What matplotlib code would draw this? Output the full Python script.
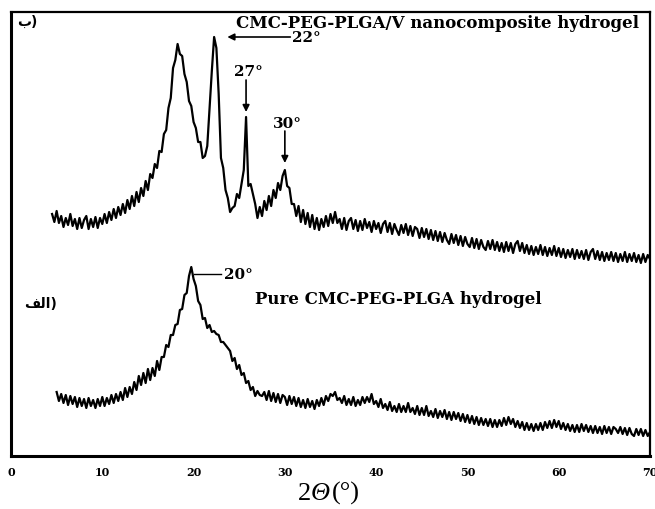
import numpy as np
import matplotlib
matplotlib.use("Agg")
import matplotlib.pyplot as plt

# ---- data (intensity, arbitrary units) ----
top_start, step = 4.5, 0.25
top_intensity = [
    242, 234, 245, 233, 240, 229, 238, 231, 242, 230, 237, 227,
    238, 228, 236, 240, 227, 237, 229, 239, 228, 238, 232, 242,
    233, 244, 236, 247, 238, 249, 241, 252, 243, 256, 247, 260,
    250, 264, 254, 268, 260, 275, 266, 282, 278, 292, 288, 305,
    304, 322, 326, 348, 358, 388, 396, 412, 402, 400, 382, 374,
    355, 350, 334, 328, 314, 314, 298, 300, 310, 348, 385, 419,
    408, 362, 298, 288, 266, 258, 244, 248, 250, 262, 258, 272,
    286, 339, 270, 272, 262, 252, 238, 249, 240, 255, 246, 260,
    250, 266, 258, 273, 266, 280, 286, 270, 268, 252, 252, 240,
    250, 234, 246, 232, 243, 229, 241, 227, 238, 226, 237, 229,
    240, 230, 242, 233, 244, 233, 237, 227, 238, 226, 235, 238,
    227, 236, 225, 235, 226, 237, 228, 234, 224, 235, 227, 233,
    223, 232, 235, 224, 233, 222, 232, 226, 221, 231, 223, 232,
    221, 230, 220, 229, 227, 218, 228, 219, 227, 217, 226, 216,
    225, 215, 224, 214, 223, 216, 212, 222, 213, 221, 211, 220,
    210, 219, 212, 209, 218, 208, 217, 207, 216, 209, 206, 215,
    207, 216, 206, 214, 205, 213, 204, 214, 205, 213, 203, 212,
    215, 205, 213, 203, 211, 202, 210, 201, 209, 202, 211, 201,
    209, 200, 208, 201, 210, 200, 208, 199, 207, 198, 206, 199,
    207, 197, 206, 198, 205, 197, 206, 196, 204, 207, 197, 205,
    196, 204, 195, 203, 196, 204, 195, 203, 194, 202, 195, 204,
    194, 202, 195, 203, 194, 201, 193, 202, 194, 201, 197,
]

bottom_start = 5.0
bottom_intensity = [
    64, 55, 62, 53, 61, 51, 60, 52, 59, 49, 58, 50,
    57, 48, 58, 50, 56, 48, 57, 50, 59, 50, 58, 52,
    61, 53, 62, 55, 64, 56, 68, 59, 69, 62, 74, 66,
    80, 71, 83, 73, 87, 76, 88, 80, 95, 86, 99, 99,
    111, 109, 121, 121, 131, 132, 146, 147, 161, 163, 180, 189,
    177, 170, 155, 151, 137, 138, 128, 131, 124, 125, 122, 121,
    114, 114, 111, 108, 105, 95, 98, 87, 91, 81, 83, 73,
    75, 66, 69, 60, 65, 61, 60, 64, 56, 65, 55, 63,
    54, 62, 53, 61, 59, 51, 60, 52, 59, 50, 58, 49,
    56, 48, 57, 49, 55, 47, 56, 50, 58, 51, 60, 55,
    62, 60, 64, 56, 58, 53, 60, 51, 57, 51, 59, 50,
    56, 51, 59, 53, 59, 54, 62, 52, 55, 49, 57, 48,
    52, 46, 54, 45, 50, 44, 52, 44, 50, 44, 53, 44,
    48, 42, 50, 41, 48, 41, 50, 40, 45, 39, 47, 38,
    45, 39, 46, 37, 44, 36, 44, 37, 43, 35, 42, 34,
    41, 33, 40, 32, 39, 31, 38, 31, 37, 30, 37, 29,
    36, 29, 36, 30, 38, 31, 39, 32, 37, 29, 35, 28,
    34, 26, 33, 26, 32, 25, 32, 26, 33, 26, 34, 28,
    35, 28, 36, 29, 35, 27, 33, 26, 32, 25, 31, 24,
    31, 24, 32, 25, 31, 24, 30, 23, 30, 23, 29, 22,
    30, 23, 29, 22, 29, 27, 23, 29, 22, 28, 21, 28,
    22, 20, 27, 21, 27, 20, 26, 20, 24,
]

x_ticks = [0, 10, 20, 30, 40, 50, 60, 70]

top_label = "CMC-PEG-PLGA/V nanocomposite hydrogel"
bottom_label = "Pure CMC-PEG-PLGA hydrogel"

top_x = top_start + step * np.arange(len(top_intensity))
bottom_x = bottom_start + step * np.arange(len(bottom_intensity))

# ---- figure ----
fig = plt.figure(figsize=(6.55, 5.1), dpi=100)
ax = fig.add_axes([11 / 655, 53 / 510, 639 / 655, 444 / 510])

ax.plot(top_x, top_intensity, color='black', lw=1.6)
ax.plot(bottom_x, bottom_intensity, color='black', lw=1.6)

ax.set_xlim(0, 70)
ax.set_ylim(0, 444)
ax.set_xticks(x_ticks)
ax.set_xticklabels([str(t) for t in x_ticks], fontfamily='DejaVu Serif',
                   fontweight='bold', fontsize=8)
ax.tick_params(axis='x', length=0, pad=7)
ax.set_yticks([])
for side in ['left', 'bottom']:
    ax.spines[side].set_linewidth(2.2)
for side in ['top', 'right']:
    ax.spines[side].set_linewidth(1.6)

serif_bold = dict(fontfamily='DejaVu Serif', fontweight='bold', color='black')

ax.text(46.7, 433, top_label, ha='center', va='center', fontsize=12, **serif_bold)
ax.text(42.4, 158, bottom_label, ha='center', va='center', fontsize=12, **serif_bold)

arrow = dict(arrowstyle='-|>', color='black', lw=1.2, mutation_scale=10,
             shrinkA=0, shrinkB=0)

# 22° horizontal arrow pointing left
ax.annotate("", xy=(23.7, 419), xytext=(30.6, 419), arrowprops=arrow)
ax.text(30.8, 419, "22°", ha='left', va='center', fontsize=11, **serif_bold)

# 27° vertical arrow
ax.annotate("", xy=(25.75, 344), xytext=(25.75, 376), arrowprops=arrow)
ax.text(26.0, 385, "27°", ha='center', va='center', fontsize=11, **serif_bold)

# 30° vertical arrow
ax.annotate("", xy=(30.0, 293), xytext=(30.0, 325), arrowprops=arrow)
ax.text(30.3, 333, "30°", ha='center', va='center', fontsize=11, **serif_bold)

# 20° leader line
ax.plot([20.1, 23.0], [182, 182], color='black', lw=1.0)
ax.text(23.3, 182, "20°", ha='left', va='center', fontsize=11, **serif_bold)

# Arabic panel labels (visual order, presentation forms)
ax.text(1.75, 435, "\uFE8F)", ha='center', va='center', fontsize=10,
        fontfamily='DejaVu Sans', fontweight='bold')
ax.text(3.2, 153, "\uFED2\uFEDF\uFE8D)", ha='center', va='center', fontsize=10,
        fontfamily='DejaVu Sans', fontweight='bold')

# x-axis label "2Θ(°)" with italic Θ
yb = 1 - 500 / 510
lab = dict(fontsize=19, fontfamily='Liberation Serif', va='baseline', ha='left')
fig.text(298 / 655, yb, "2", **lab)
fig.text(311 / 655, yb, "Θ", style='italic', **lab)
fig.text(332 / 655, yb, "(°)", **lab)

fig.savefig("out.png", dpi=100)
